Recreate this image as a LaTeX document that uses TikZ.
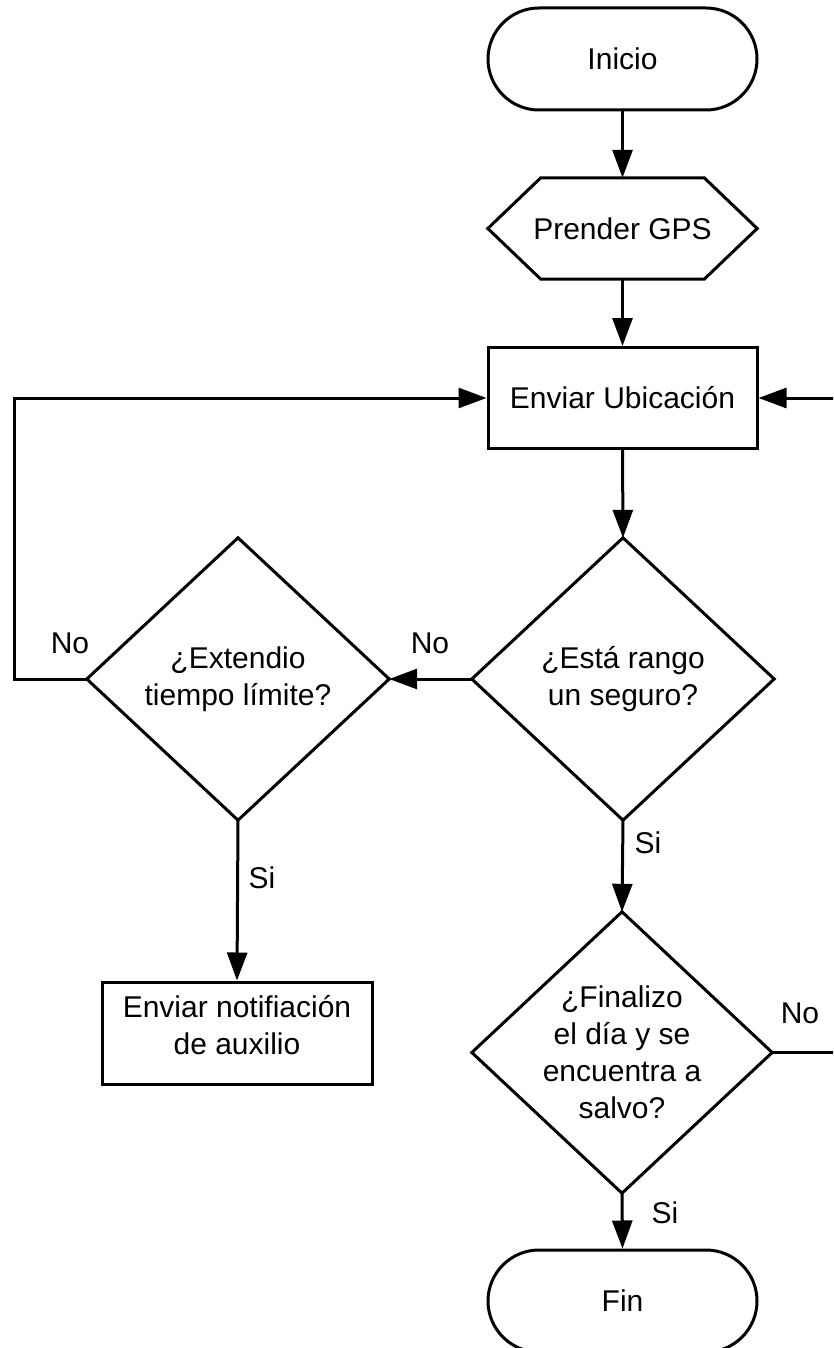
\documentclass[tikz,border=0pt]{standalone}
\usepackage{fontspec}
\setmainfont{Liberation Sans}
\usetikzlibrary{arrows.meta}
\begin{document}
\begin{tikzpicture}[x=1pt,y=-1pt,
  every node/.style={font=\fontsize{30}{37}\selectfont, align=center},
  line/.style={line width=3pt, line join=miter},
  arr/.style={line width=3pt, -{Triangle[length=28pt,width=20pt]}},
  terminal/.style={draw, line width=3pt, rounded corners=51pt, minimum width=269pt, minimum height=102pt, inner sep=0},
  box/.style={draw, line width=3pt, minimum width=269pt, minimum height=101pt, inner sep=0},
  frame/.style={inner sep=0, minimum width=302pt, minimum height=282pt}
]
\useasboundingbox (0,0) rectangle (833,1348);
\clip (0,0) rectangle (833,1348);
\fill[white] (0,0) rectangle (833,1348);

% nodes
\node[terminal] (inicio) at (622.5,59) {Inicio};
\node[inner sep=0, minimum width=269pt, minimum height=101pt] (gps) at (622.5,228.5) {Prender GPS};
\draw[line] (gps.west) -- ([xshift=53pt]gps.north west) -- ([xshift=-53pt]gps.north east)
  -- (gps.east) -- ([xshift=-53pt]gps.south east) -- ([xshift=53pt]gps.south west) -- cycle;
\node[box] (env) at (622.5,398) {Enviar Ubicación};

\node[frame] (d1) at (623,679) {¿Está rango\\un seguro?};
\draw[line] (d1.north) -- (d1.east) -- (d1.south) -- (d1.west) -- cycle;

\node[frame] (d2) at (238,679) {¿Extendio\\tiempo límite?};
\draw[line] (d2.north) -- (d2.east) -- (d2.south) -- (d2.west) -- cycle;

\node[box, minimum width=270pt, minimum height=102pt] (notif) at (237,1033) {};
\node (notiftext) at (237,1025) {Enviar notifiación\\de auxilio};

\node[frame, minimum width=300pt, minimum height=281pt] (d3) at (622,1052.5) {¿Finalizo\\el día y se\\encuentra a\\salvo?};
\draw[line] (d3.north) -- (d3.east) -- (d3.south) -- (d3.west) -- cycle;

\node[terminal] (fin) at (622.5,1301) {Fin};

% connectors
\draw[arr] (inicio.south) -- (gps.north);
\draw[arr] (gps.south) -- (env.north);
\draw[arr] (env.south) -- (d1.north);
\draw[arr] (d1.west) -- (d2.east);
\coordinate (lc) at (14,679);
\draw[arr] (d2.west) -- (lc) |- (env.west);
\draw[arr] (d2.south) -- (notif.north);
\draw[arr] (d1.south) -- (d3.north);
\coordinate (rc) at (850,1052.5);
\draw[arr] (d3.east) -- (rc) |- (env.east);
\draw[arr] (d3.south) -- (fin.north);

% labels
\node (no1) at (430,643) {No};
\node (no2) at (70,643) {No};
\node (si1) at (648,843) {Si};
\node (si2) at (262,878) {Si};
\node (no3) at (800,1013) {No};
\node (si3) at (665,1213) {Si};
\end{tikzpicture}
\end{document}
